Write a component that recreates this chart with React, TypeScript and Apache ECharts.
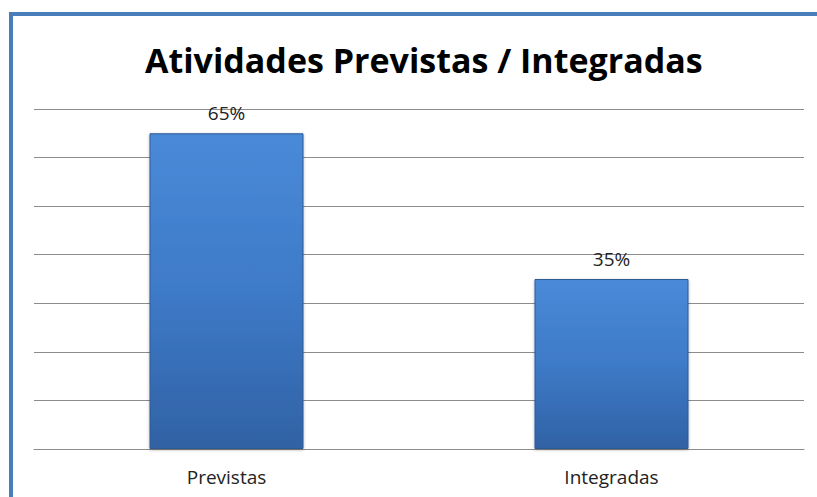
import React, { useEffect, useRef } from "react";
import * as echarts from "echarts";

const categories = ["Previstas", "Integradas"];
const values = [65, 35];
const titleText = "Atividades Previstas / Integradas";

export default function App() {
  const ref = useRef<HTMLDivElement>(null);
  useEffect(() => {
    if (!ref.current) return;
    const chart = echarts.init(ref.current, null, { renderer: "svg" });
    chart.setOption({
      animation: false,
      backgroundColor: "#ffffff",
      title: {
        text: titleText,
        left: 140,
        top: 38,
        textStyle: {
          fontFamily: "Open Sans",
          fontWeight: "bold",
          fontSize: 34,
          color: "#000",
        },
      },
      graphic: [
        { type: "line", shape: { x1: 11, y1: 12, x2: 11, y2: 497 }, style: { stroke: "#4a7ebb", lineWidth: 4 } },
        { type: "line", shape: { x1: 9, y1: 14, x2: 817, y2: 14 }, style: { stroke: "#4a7ebb", lineWidth: 4 } },
      ],
      grid: { left: 34, right: 13, top: 109, bottom: 48 },
      xAxis: {
        type: "category",
        data: categories,
        axisTick: { show: false },
        axisLine: { lineStyle: { color: "#8c8c8c", width: 1 } },
        axisLabel: { color: "#222", fontFamily: "Open Sans", fontSize: 19, margin: 18 },
      },
      yAxis: {
        type: "value",
        min: 0,
        max: 70,
        interval: 10,
        axisLabel: { show: false },
        axisLine: { show: false },
        axisTick: { show: false },
        splitLine: { lineStyle: { color: "#8c8c8c", width: 1 } },
      },
      series: [
        {
          type: "bar",
          data: values,
          barWidth: "40%",
          itemStyle: {
            color: new echarts.graphic.LinearGradient(0, 0, 0, 1, [
              { offset: 0, color: "#4a8ad8" },
              { offset: 0.5, color: "#3e7ac8" },
              { offset: 1, color: "#3062a4" },
            ]),
            borderColor: "#2d5a96",
            borderWidth: 1,
            shadowColor: "rgba(0,0,0,0.3)",
            shadowBlur: 3,
            shadowOffsetY: 1,
          },
          label: {
            show: true,
            position: "top",
            distance: 11,
            formatter: "{c}%",
            color: "#222",
            fontFamily: "Open Sans",
            fontSize: 19,
          },
        },
      ],
    });
    return () => chart.dispose();
  }, []);
  return <div ref={ref} style={{ width: 817, height: 497, position: "absolute", left: 0, top: 0 }} />;
}
